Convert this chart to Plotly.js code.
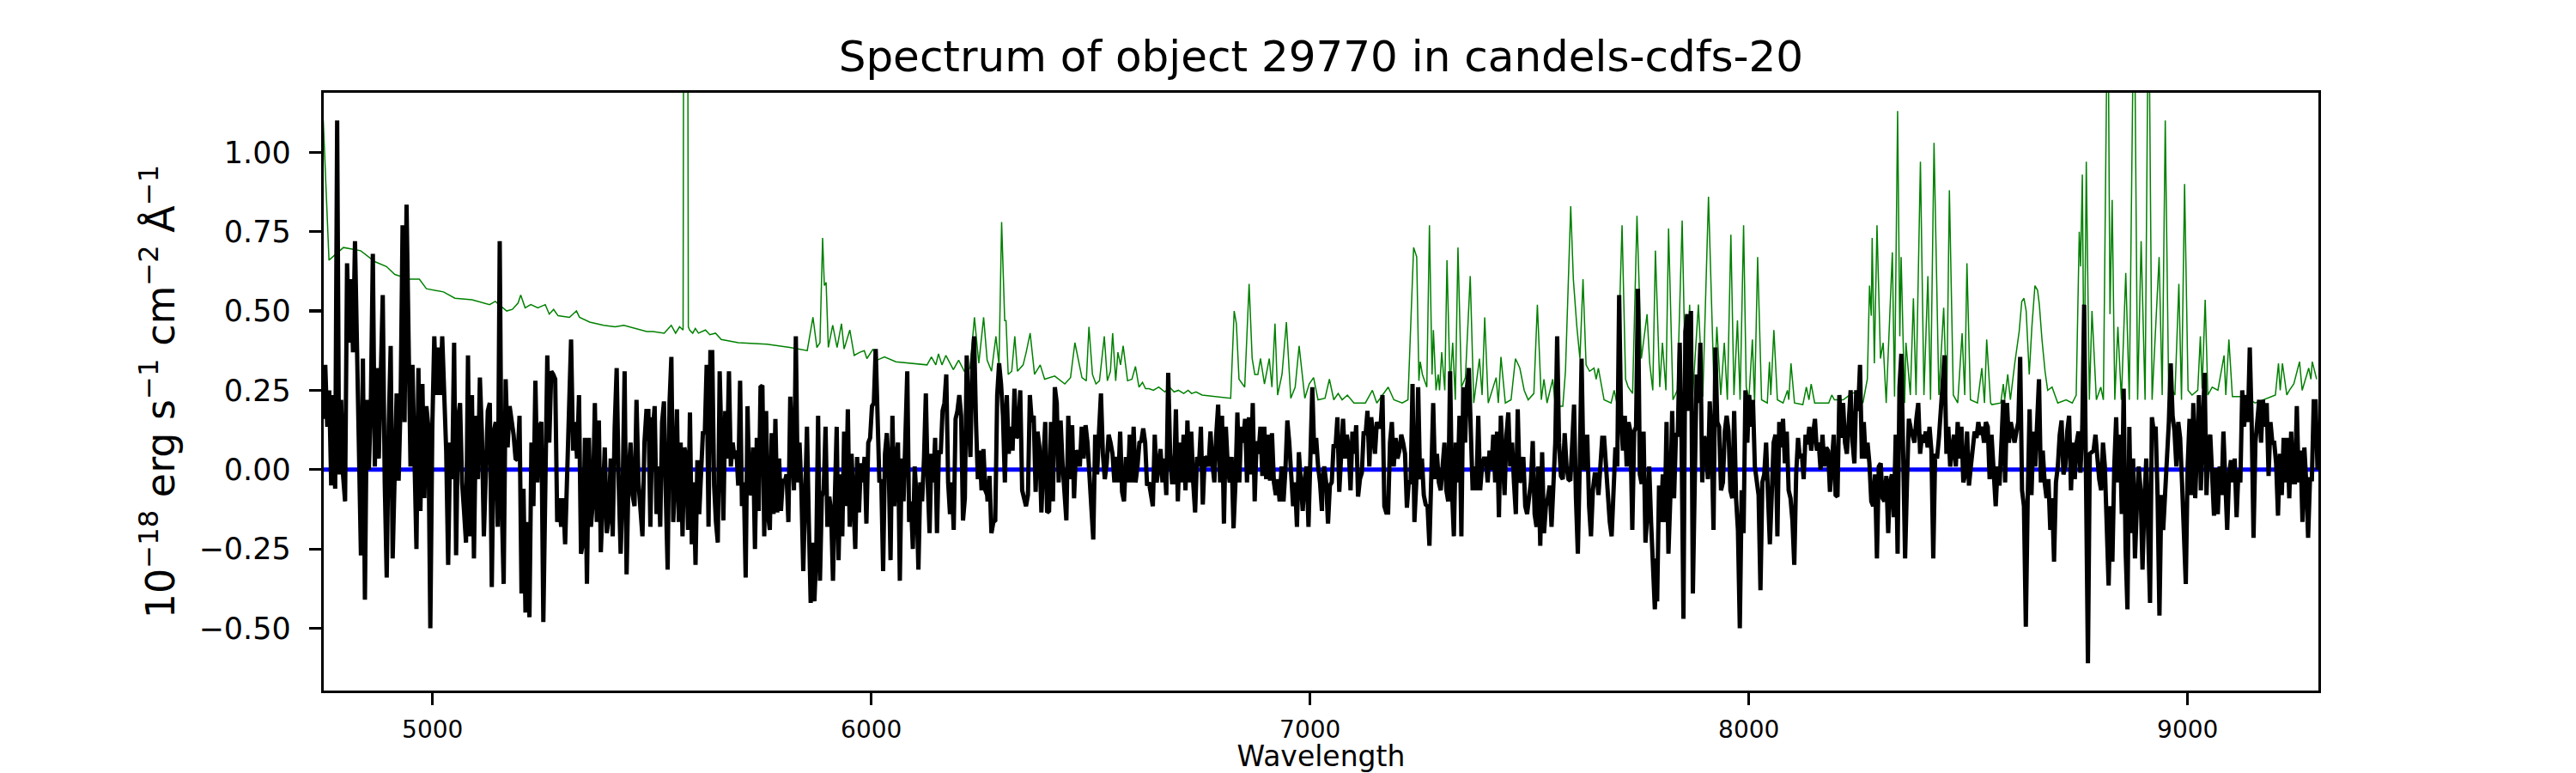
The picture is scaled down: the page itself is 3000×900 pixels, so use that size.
<!DOCTYPE html>
<html>
<head>
<meta charset="utf-8">
<script src="https://cdn.plot.ly/plotly-3.0.1.min.js"></script>
<style>
  html, body { margin: 0; padding: 0; background: #fff; }
  #plot { width: 3000px; height: 900px; }
</style>
</head>
<body>
<div id="plot"></div>
<script>
const segStart = [4751, 5502, 6265, 7028, 7791, 8554];
const segEnd   = [5501, 6264, 7027, 7790, 8553, 9296];

const fluxA = [0.16,0.33,0.135,0.25,-0.05,0.235,-0.06,1.10,-0.015,0.22,-0.02,-0.10,0.65,0.40,0.60,0.37,0.72,0.335,-0.09,-0.27,0.35,-0.41,0.22,0.0,0.21,0.68,0.01,0.32,0.035,0.32,0.55,-0.04,-0.34,0.135,0.39,-0.28,0.02,0.24,-0.035,0.21,0.77,0.15,0.835,0.335,0.01,0.33,0.01,-0.25,0.32,-0.13,0.27,-0.09,0.20,0.135,-0.50,0.135,0.42,0.235,0.385,0.235,0.42,0.25,0.06,-0.30,0.085,-0.03,0.40,-0.27,0.16,0.21,-0.04,-0.13,-0.23,0.36,-0.21,0.235,-0.28,0.17,-0.03,0.29,0.12,-0.21,0.05,0.185,0.21,-0.37,0.12,0.15,-0.18,0.72,-0.10,-0.36,0.285,0.07,0.20,0.16,0.11,0.035,0.03,0.17,-0.39,-0.06,-0.45,-0.165,-0.465,0.085,-0.115,0.28,-0.04,0.135,0.15,-0.48,0.085,0.36,0.085,0.31,0.30,0.285,-0.165,-0.09,-0.18,-0.09,-0.235,0.01,0.17,0.41,0.06,0.15,0.035,0.235,-0.265,-0.23,0.10,-0.36,0.10,-0.18,-0.10,0.21,-0.165,0.155,-0.26,-0.07,0.07,-0.20,-0.15,0.035,-0.21,0.135,0.32,-0.04,-0.265,-0.065,0.31,-0.33,-0.015,0.085,-0.08,-0.115,0.22,-0.04,-0.14,-0.21,0.085,0.185,0.185,-0.18,0.165];
const fluxB = [0.12,0.20,-0.14,0.01,-0.18,0.15,0.215,-0.08,-0.315,0.21,0.355,-0.165,-0.03,0.19,-0.165,0.085,-0.21,0.07,0.04,-0.19,0.18,-0.235,-0.04,-0.30,0.03,-0.14,0.035,0.12,0.115,0.33,-0.18,0.37,0.37,-0.05,-0.165,-0.23,0.31,0.01,-0.16,0.185,0.035,0.31,0.01,0.085,0.035,0.06,-0.05,0.28,-0.115,-0.04,-0.34,0.20,-0.065,-0.08,0.07,-0.25,0.10,-0.13,0.26,0.265,-0.21,0.185,-0.14,-0.19,0.115,-0.14,0.16,-0.135,0.035,-0.13,-0.03,-0.04,-0.015,-0.165,0.23,0.06,-0.065,0.42,-0.04,0.085,-0.065,-0.32,-0.065,0.135,-0.165,-0.42,-0.23,-0.415,-0.265,0.17,-0.35,-0.085,-0.065,0.135,-0.18,-0.085,-0.13,-0.35,-0.09,0.135,-0.285,-0.015,-0.21,0.12,-0.115,0.19,-0.18,0.05,-0.10,-0.25,0.04,-0.135,0.02,-0.04,0.04,-0.17,0.085,0.10,0.20,0.21,0.38,0.12,-0.04,-0.03,-0.32,0.05,0.115,0.01,-0.285,0.17,-0.115,0.035,0.085,-0.35,0.035,-0.10,0.10,0.31,-0.165,-0.10,-0.25,0.01,-0.09,-0.315,-0.04,-0.10,0.035,0.24,-0.04,-0.20,0.05,-0.04,0.10,-0.20,0.06,0.05,0.185,0.21,0.30,-0.04,-0.14,-0.04,-0.19,0.16,0.185,0.235,0.17,-0.16,-0.09,0.36,0.17,0.04,0.335,0.42,0.15,-0.03,0.06,-0.065,0.065,-0.065,-0.08];
const fluxC = [-0.10,-0.02,-0.20,-0.165,-0.16,0.235,0.335,0.27,0.17,-0.04,0.235,0.05,0.135,0.06,0.255,0.10,0.11,0.25,-0.065,-0.09,-0.115,-0.08,0.235,0.15,0.17,-0.07,0.12,0.07,-0.135,0.02,0.15,-0.135,-0.13,0.15,-0.10,0.26,0.21,-0.04,0.155,0.02,-0.10,-0.16,0.17,-0.03,0.14,-0.09,0.06,0.05,0.01,0.135,0.035,0.14,0.085,-0.02,-0.115,-0.22,0.11,-0.015,0.12,0.24,0.05,-0.03,0.02,0.11,0.085,0.05,-0.04,0.04,-0.04,0.12,-0.07,-0.10,0.04,-0.04,0.11,-0.04,0.135,-0.04,0.01,0.085,0.09,0.13,0.085,-0.05,-0.04,-0.09,-0.115,0.11,-0.04,0.01,0.065,-0.04,0.035,-0.08,0.305,0.05,-0.04,-0.04,0.19,-0.10,0.085,-0.04,0.11,-0.065,0.155,-0.04,0.12,-0.04,-0.135,0.04,0.01,0.135,-0.11,0.04,0.035,0.01,0.12,0.02,-0.04,0.11,0.205,-0.04,0.17,-0.17,0.135,0.01,-0.04,0.04,-0.185,-0.04,0.18,-0.04,0.135,0.085,0.16,-0.04,0.165,-0.015,0.21,-0.10,0.09,0.05,0.135,-0.02,0.135,-0.03,0.11,-0.035,0.115,-0.04,-0.08,-0.03,-0.10,0.01,-0.10,0.0,0.155,0.085,-0.015,-0.115,-0.04,-0.18,0.055,-0.065,-0.13,-0.03,0.01,-0.18,0.06,0.26,0.05,0.10,0.01,-0.04,-0.13];
const fluxD = [-0.04,0.01,-0.04,-0.17,-0.05,-0.04,0.08,0.07,0.165,-0.07,0.05,0.16,0.035,0.11,0.07,-0.065,0.12,0.05,0.14,-0.085,-0.03,-0.01,0.12,0.11,0.185,0.01,0.165,0.085,0.05,0.15,0.135,0.135,0.235,-0.115,-0.135,-0.135,0.085,0.15,0.01,0.10,0.035,0.06,0.11,0.085,0.05,-0.12,-0.04,-0.04,0.27,-0.165,-0.04,0.26,-0.03,0.035,-0.08,-0.11,-0.115,-0.24,0.035,0.21,-0.03,0.05,-0.04,-0.065,0.01,0.085,-0.065,-0.10,0.31,-0.065,-0.21,0.085,-0.04,0.17,-0.21,0.26,0.085,0.26,0.32,0.06,-0.065,0.01,-0.065,0.17,-0.065,0.01,0.035,0.035,-0.04,0.06,0.0,0.11,-0.04,0.12,-0.15,0.17,0.02,-0.08,0.11,0.18,0.01,0.085,-0.04,-0.14,0.19,-0.04,-0.03,0.04,-0.115,-0.14,-0.09,-0.04,0.09,-0.14,-0.18,0.01,-0.24,0.055,-0.20,-0.115,-0.09,-0.05,-0.18,-0.015,0.085,0.42,0.085,-0.02,-0.03,0.115,0.01,-0.03,-0.035,0.08,0.205,-0.09,-0.265,0.01,0.35,0.0,0.01,0.11,-0.115,-0.21,-0.065,-0.015,-0.015,-0.08,0.015,0.10,0.10,0.01,-0.115,-0.165,-0.21,-0.04,0.07,0.01,0.55,0.17,0.06,0.17,0.01,0.15,0.12,-0.19,0.12,0.135,0.57,-0.015,-0.045,0.12,-0.23,-0.14,0.01,-0.165,-0.29,-0.44,-0.28];
const fluxE = [-0.415,-0.05,-0.165,-0.015,-0.165,0.15,-0.265,-0.09,0.185,-0.09,0.11,0.11,0.40,0.085,-0.47,0.435,0.49,0.185,0.50,-0.39,-0.015,0.30,0.21,0.40,-0.04,0.105,0.085,-0.03,0.215,0.085,-0.19,0.385,0.15,0.135,-0.065,-0.04,0.12,0.17,0.12,-0.065,-0.09,0.185,-0.09,-0.19,-0.50,-0.065,-0.20,0.25,0.085,0.235,0.135,0.22,0.01,-0.04,-0.08,-0.38,-0.04,-0.015,0.085,-0.08,-0.235,-0.08,0.085,0.11,-0.21,0.15,0.07,0.16,0.02,0.12,-0.065,-0.09,-0.16,-0.30,-0.015,0.10,0.035,0.05,-0.03,0.11,0.08,0.135,0.06,0.11,0.16,0.06,0.085,0.0,0.11,0.01,0.07,0.06,-0.07,0.02,0.11,-0.08,-0.085,0.235,0.10,0.21,0.085,0.05,0.135,0.25,0.085,0.02,0.25,0.185,0.33,0.035,0.15,0.035,0.085,0.02,-0.10,-0.115,-0.015,-0.28,0.01,0.02,-0.09,-0.10,-0.02,-0.20,-0.04,-0.015,-0.15,0.11,-0.265,0.26,0.365,0.01,-0.28,-0.04,0.16,0.13,0.11,0.085,0.16,0.21,0.05,0.11,0.085,0.12,0.07,0.135,0.06,-0.28,0.05,0.035,0.10,0.185,0.235,0.36,0.05,0.135,0.01,0.06,0.11,0.01,0.15,0.035,0.135,-0.04,-0.015,0.12,-0.05,0.01,0.06,0.12,0.10,0.15,0.11,0.135,0.085,0.15,0.135,-0.03,0.11];
const fluxF = [0.085,-0.05,-0.115,0.01,-0.05,0.08,0.22,-0.04,0.21,0.085,0.15,0.12,0.085,0.12,0.15,0.355,-0.065,-0.115,-0.495,-0.09,0.19,-0.08,0.12,0.01,0.135,0.285,-0.04,0.06,-0.04,-0.09,-0.03,-0.19,-0.09,-0.29,-0.04,0.01,0.11,0.155,-0.015,0.01,0.12,0.17,-0.065,0.085,-0.03,0.085,0.12,-0.01,0.135,0.52,-0.04,-0.61,0.05,0.055,0.06,0.11,0.035,-0.03,-0.065,0.085,0.01,-0.18,-0.365,-0.115,-0.29,0.01,0.165,-0.04,0.11,-0.14,0.255,-0.25,-0.44,0.135,-0.20,0.035,-0.28,-0.115,0.01,-0.065,-0.315,-0.10,0.035,-0.20,-0.42,0.165,0.12,0.135,-0.08,-0.46,-0.08,-0.19,-0.08,-0.015,0.15,0.335,0.17,0.12,0.01,0.15,0.10,-0.04,-0.165,-0.36,0.01,0.16,-0.08,0.21,-0.09,0.11,0.235,-0.065,0.085,0.305,-0.08,0.085,0.11,-0.04,-0.145,0.005,-0.14,0.01,-0.08,0.12,-0.04,-0.19,-0.015,0.03,-0.04,0.035,-0.15,0.0,-0.04,0.25,0.135,0.235,0.15,0.385,0.15,-0.215,0.085,0.17,0.22,0.085,0.22,0.135,0.21,-0.02,0.15,0.085,0.085,0.02,-0.145,0.05,-0.08,0.10,-0.04,0.10,-0.09,0.12,-0.04,-0.04,0.20,-0.04,0.06,-0.165,0.07,-0.04,-0.215,-0.03,-0.03,0.215,0.215,0.0];

// noise / sky spectrum (green)
const skyWave = [4751,4764,4797,4836,4869,4895,4914,4947,4970,4986,5025,5051,5090,5130,5143,5169,5182,5195,5201,5211,5224,5240,5257,5266,5276,5286,5312,5328,5335,5358,5390,5416,5436,5462,5488,
  5502,5528,5544,5554,5563,5571,5573,5581,5583,5586,5593,5599,5606,5622,5632,5645,5658,5697,5762,5814,5854,5867,5876,5883,5889,5893,5897,5902,5912,5922,5932,5938,5951,5961,5974,5984,5990,6004,6013,6030,6056,6088,6127,6137,6147,6153,6161,6170,6180,6187,6199,6212,6225,6235,6245,6256,6264,
  6274,6284,6291,6297,6304,6307,6312,6320,6327,6333,6346,6353,6362,6372,6385,6395,6418,6441,6454,6464,6470,6480,6490,6496,6504,6512,6520,6531,6538,6545,6550,6557,6562,6568,6574,6584,6594,6602,6610,6618,6625,6633,6643,6655,6669,6680,6690,6700,6712,6722,6730,6740,6754,6786,6819,6827,6832,6838,6851,6861,6868,6874,6881,6887,6896,6907,6913,6920,6926,6936,6946,6956,6966,6975,6988,6998,7008,7018,
  7034,7044,7054,7064,7073,7085,7100,7126,7142,7152,7178,7191,7210,7223,7236,7243,7248,7251,7256,7266,7272,7278,7281,7287,7292,7295,7300,7307,7312,7319,7325,7331,7337,7345,7354,7365,7373,7386,7392,7398,7406,7424,7429,7435,7445,7458,7468,7478,7488,7497,7510,7518,7527,7533,7540,7553,7559,7576,7582,7594,7600,7608,7615,7622,7629,7637,7647,7652,7657,7670,7686,7693,7699,7711,7719,7725,7735,7745,7755,7768,7774,7781,7787,7797,
  7803,7811,7817,7827,7837,7848,7856,7865,7872,7885,7895,7908,7915,7921,7927,7936,7944,7951,7959,7966,7974,7980,7988,7994,8000,8008,8013,8020,8029,8042,8047,8050,8057,8065,8078,8088,8091,8096,8104,8123,8131,8137,8142,8150,8182,8189,8195,8215,8234,8247,8260,8270,8275,8279,8281,8286,8292,8300,8306,8313,8327,8332,8339,8344,8347,8355,8358,8368,8375,8381,8391,8399,8408,8414,8422,8433,8444,8451,8457,8466,8476,8486,8492,8497,8505,8521,8531,8537,8542,8551,
  8554,8574,8580,8583,8590,8596,8606,8611,8616,8622,8627,8632,8635,8639,8645,8649,8652,8658,8662,8668,8675,8681,8691,8704,8723,8737,8746,8753,8756,8760,8764,8769,8776,8782,8792,8802,8808,8818,8823,8828,8834,8841,8849,8859,8867,8878,8886,8894,8903,8911,8919,8935,8942,8949,8957,8965,8971,8980,8986,8993,9001,9010,9023,9029,9033,9040,9046,9056,9069,9083,9087,9094,9102,9128,9154,9200,9207,9211,9216,9226,9232,9242,9255,9261,9276,9281,9284,9294];
const skyFlux = [1.10,0.66,0.70,0.69,0.655,0.64,0.615,0.60,0.60,0.57,0.56,0.54,0.535,0.52,0.53,0.50,0.505,0.525,0.55,0.51,0.52,0.51,0.52,0.49,0.505,0.485,0.48,0.50,0.48,0.465,0.455,0.45,0.455,0.445,0.435,
  0.435,0.43,0.455,0.43,0.45,0.44,2.0,2.0,0.45,0.44,0.43,0.445,0.43,0.44,0.425,0.43,0.41,0.40,0.395,0.385,0.375,0.48,0.385,0.40,0.73,0.58,0.59,0.385,0.455,0.385,0.46,0.38,0.44,0.36,0.37,0.375,0.35,0.38,0.345,0.355,0.34,0.335,0.33,0.355,0.33,0.365,0.33,0.36,0.335,0.315,0.345,0.31,0.32,0.48,0.335,0.48,0.345,
  0.31,0.42,0.33,0.78,0.47,0.47,0.30,0.31,0.42,0.31,0.33,0.37,0.43,0.30,0.33,0.285,0.295,0.27,0.29,0.40,0.36,0.29,0.28,0.45,0.30,0.27,0.28,0.42,0.28,0.31,0.43,0.28,0.37,0.33,0.39,0.28,0.285,0.325,0.26,0.275,0.255,0.255,0.25,0.26,0.245,0.26,0.245,0.25,0.24,0.25,0.24,0.245,0.235,0.23,0.225,0.50,0.46,0.285,0.26,0.585,0.35,0.30,0.30,0.35,0.27,0.35,0.26,0.46,0.235,0.30,0.465,0.225,0.26,0.39,0.225,0.27,0.29,0.22,
  0.225,0.285,0.22,0.24,0.22,0.235,0.21,0.21,0.25,0.21,0.26,0.22,0.21,0.22,0.70,0.67,0.28,0.34,0.30,0.26,0.77,0.30,0.44,0.25,0.30,0.25,0.37,0.25,0.66,0.26,0.40,0.22,0.70,0.26,0.29,0.61,0.21,0.35,0.235,0.48,0.21,0.29,0.21,0.355,0.21,0.22,0.35,0.32,0.25,0.22,0.24,0.52,0.22,0.285,0.21,0.285,0.20,0.20,0.31,0.83,0.60,0.45,0.35,0.60,0.33,0.31,0.32,0.285,0.32,0.22,0.21,0.25,0.21,0.77,0.285,0.26,0.24,0.80,0.35,0.49,0.335,0.25,0.69,0.26,
  0.40,0.25,0.76,0.22,0.25,0.785,0.235,0.52,0.235,0.52,0.23,0.86,0.52,0.235,0.45,0.235,0.40,0.22,0.74,0.235,0.47,0.22,0.77,0.26,0.22,0.41,0.21,0.67,0.22,0.21,0.34,0.235,0.44,0.22,0.21,0.25,0.22,0.335,0.21,0.205,0.26,0.22,0.27,0.21,0.21,0.235,0.22,0.22,0.24,0.245,0.21,0.285,0.58,0.485,0.73,0.335,0.77,0.35,0.40,0.21,0.685,0.23,1.13,0.42,0.67,0.21,0.40,0.235,0.54,0.235,0.97,0.235,0.61,0.22,1.03,0.235,0.51,0.22,0.88,0.235,0.21,0.43,0.235,0.65,0.22,0.21,0.32,0.21,0.41,0.21,
  0.205,0.21,0.27,0.22,0.30,0.22,0.335,0.38,0.435,0.53,0.54,0.50,0.40,0.30,0.45,0.52,0.58,0.565,0.52,0.41,0.31,0.25,0.26,0.21,0.22,0.21,0.235,0.75,0.64,0.93,0.22,0.97,0.22,0.50,0.22,0.26,0.22,1.6,0.49,0.85,0.22,0.45,0.22,0.62,0.22,1.6,0.22,0.72,0.22,1.6,0.22,0.67,0.235,1.10,0.22,0.25,0.235,0.585,0.22,0.90,0.25,0.235,0.25,0.42,0.255,0.535,0.235,0.26,0.25,0.36,0.235,0.41,0.23,0.23,0.21,0.235,0.335,0.25,0.335,0.235,0.25,0.27,0.34,0.25,0.32,0.285,0.34,0.285];

// model / zero level (blue)
const modelWave = [4751, 9298];
const modelFlux = [0, 0];

const xRange = [4752, 9298];
const yRange = [-0.696, 1.1875];

// build the flux trace: each segment spread evenly between its edges
const segments = [fluxA, fluxB, fluxC, fluxD, fluxE, fluxF];
let waveObs = [];
let fluxObs = [];
segments.forEach((vals, i) => {
    const n = vals.length;
    const step = (segEnd[i] - segStart[i]) / (n - 1);
    vals.forEach((v, k) => {
        waveObs.push(segStart[i] + k * step);
        fluxObs.push(v);
    });
});

const font = "DejaVu Sans";

const traces = [
    {
        x: skyWave, y: skyFlux, type: 'scatter', mode: 'lines',
        line: {color: '#008000', width: 1.5},
        hoverinfo: 'skip'
    },
    {
        x: modelWave, y: modelFlux, type: 'scatter', mode: 'lines',
        line: {color: '#0000ff', width: 5},
        hoverinfo: 'skip'
    },
    {
        x: waveObs, y: fluxObs, type: 'scatter', mode: 'lines',
        line: {color: '#000000', width: 5},
        hoverinfo: 'skip'
    }
];

const layout = {
    width: 3000,
    height: 900,
    margin: {l: 377, r: 300, t: 108, b: 96},
    paper_bgcolor: '#ffffff',
    plot_bgcolor: '#ffffff',
    showlegend: false,
    title: {
        text: 'Spectrum of object 29770 in candels-cdfs-20',
        font: {family: font, size: 50, color: '#000'},
        x: 0.5128, xanchor: 'center',
        y: 0.927, yanchor: 'middle', yref: 'container'
    },
    xaxis: {
        range: xRange,
        showgrid: false, zeroline: false,
        showline: true, mirror: true, linecolor: '#000', linewidth: 3.3,
        ticks: 'outside', ticklen: 14, tickwidth: 3.3, tickcolor: '#000',
        dtick: 1000, tick0: 0,
        tickfont: {family: font, size: 28, color: '#000'},
        ticklabelstandoff: 4,
        title: {text: 'Wavelength', font: {family: font, size: 33, color: '#000'}, standoff: 2}
    },
    yaxis: {
        range: yRange,
        showgrid: false, zeroline: false,
        showline: true, mirror: true, linecolor: '#000', linewidth: 3.3,
        ticks: 'outside', ticklen: 14, tickwidth: 3.3, tickcolor: '#000',
        dtick: 0.25, tick0: 0, tickformat: '.2f',
        tickfont: {family: font, size: 35, color: '#000'},
        ticklabelstandoff: 14,
        title: {
            text: '10<sup>\u221218</sup> erg s<sup>\u22121</sup> cm<sup>\u22122</sup> \u00c5<sup>\u22121</sup>',
            font: {family: font, size: 46, color: '#000'},
            standoff: 14
        }
    }
};

Plotly.newPlot('plot', traces, layout, {staticPlot: true, displayModeBar: false});
</script>
</body>
</html>
